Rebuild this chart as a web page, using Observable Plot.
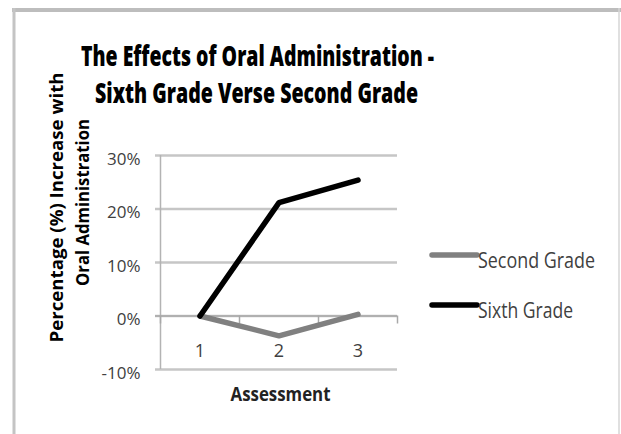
<!DOCTYPE html>
<html><head><meta charset="utf-8">
<script src="https://cdn.jsdelivr.net/npm/d3@7"></script>
<script src="https://cdn.jsdelivr.net/npm/@observablehq/plot@0.6"></script>
<style>body{margin:0;background:#fff;} #chart svg{display:block;}</style>
</head><body><div id="chart"></div>
<script>
const assessments = [1, 2, 3];
const seriesNames = ["Second Grade", "Sixth Grade"];
const secondGrade = [0, -0.037, 0.003];
const sixthGrade = [0, 0.212, 0.254];
const yTicks = [-0.1, 0, 0.1, 0.2, 0.3];
const titleLines = ["The Effects of Oral Administration -", "Sixth Grade Verse Second Grade"];
const yTitleLines = ["Percentage (%) Increase with", "Oral Administration"];
const xTitle = "Assessment";

const rows = [];
seriesNames.forEach((s, i) => {
  const vals = i === 0 ? secondGrade : sixthGrade;
  assessments.forEach((a, j) => rows.push({series: s, assessment: a, value: vals[j]}));
});
const boundaries = [0.5, 1.5, 2.5, 3.5];
const font = "'Open Sans', sans-serif";
const pct = d => d3.format(".0%")(d).replace("\u2212", "-");

// target rendered widths (squeezed text, like the stretched original)
const fitWidths = new Map([
  [titleLines[0], 353], [titleLines[1], 323],
  [yTitleLines[0], 270], [yTitleLines[1], 167],
  [xTitle, 100]
]);

const chart = Plot.plot({
  width: 621, height: 434,
  marginLeft: 160, marginRight: 224, marginTop: 155, marginBottom: 65,
  style: {fontFamily: font, background: "white", overflow: "visible"},
  x: {domain: [0.5, 3.5], axis: null},
  y: {domain: [-0.1, 0.3], axis: null},
  color: {domain: seriesNames, range: ["#808080", "#000000"]},
  marks: [
    Plot.ruleY(yTicks, {y: d => d, stroke: "#c6c6c6", strokeWidth: 2.5, insetLeft: -5}),
    Plot.ruleX([0.5], {x: d => d, stroke: "#b3b3b3", strokeWidth: 1.5}),
    Plot.ruleY([0], {y: d => d, stroke: "#a8a8a8", strokeWidth: 1.5, insetLeft: -5}),
    Plot.ruleX(boundaries, {x: d => d, y1: 0, y2: 0, insetBottom: -8, stroke: "#a8a8a8", strokeWidth: 1.5}),
    Plot.line(rows, {x: "assessment", y: "value", z: "series", stroke: "series", strokeWidth: 5.5}),
    Plot.text(yTicks, {y: d => d, frameAnchor: "left", dx: -20, dy: 4, textAnchor: "end", text: pct, fill: "#404040", fontSize: 17}),
    Plot.text(assessments, {x: d => d, y: 0, dy: 35, text: d => String(d), fill: "#404040", fontSize: 18}),
    Plot.text([titleLines[0]], {text: d => d, frameAnchor: "top-left", textAnchor: "middle", dx: 97, dy: -90, lineAnchor: "bottom", fontSize: 29, fontWeight: 800, fill: "#000"}),
    Plot.text([titleLines[1]], {text: d => d, frameAnchor: "top-left", textAnchor: "middle", dx: 96, dy: -53, lineAnchor: "bottom", fontSize: 29, fontWeight: 800, fill: "#000"}),
    Plot.text([yTitleLines[0]], {text: d => d, frameAnchor: "top-left", textAnchor: "middle", dx: -98, dy: 52, rotate: -90, lineAnchor: "bottom", fontSize: 18, fontWeight: "bold", fill: "#000"}),
    Plot.text([yTitleLines[1]], {text: d => d, frameAnchor: "top-left", textAnchor: "middle", dx: -72, dy: 47, rotate: -90, lineAnchor: "bottom", fontSize: 18, fontWeight: "bold", fill: "#000"}),
    Plot.text([xTitle], {text: d => d, frameAnchor: "bottom", textAnchor: "middle", dx: 1.5, dy: 31, lineAnchor: "bottom", fontSize: 20, fontWeight: "bold", fill: "#222"})
  ]
});

const svg = d3.select(chart);
svg.selectAll("text").each(function() {
  const t = d3.select(this).text();
  if (fitWidths.has(t)) d3.select(this).attr("textLength", fitWidths.get(t)).attr("lengthAdjust", "spacingAndGlyphs");
});

// legend
const colors = ["#808080", "#000000"];
const legendWidths = [117, 95];
const lg = svg.append("g").attr("font-family", font).attr("text-anchor", "start");
seriesNames.forEach((s, i) => {
  const y = 255 + i * 50;
  lg.append("line").attr("x1", 432).attr("x2", 477).attr("y1", y).attr("y2", y)
    .attr("stroke", colors[i]).attr("stroke-width", 5.5).attr("stroke-linecap", "round");
  lg.append("text").attr("x", 478).attr("y", y + 13).attr("font-size", 22).attr("fill", "#404040")
    .attr("text-anchor", "start")
    .attr("textLength", legendWidths[i]).attr("lengthAdjust", "spacingAndGlyphs").text(s);
});

// outer chart border
const bd = svg.append("g").attr("fill", "none");
bd.append("line").attr("x1", 12).attr("x2", 621).attr("y1", 10).attr("y2", 10).attr("stroke", "#bdbdbd").attr("stroke-width", 4);
bd.append("line").attr("x1", 14).attr("x2", 14).attr("y1", 8).attr("y2", 434).attr("stroke", "#c4c4c4").attr("stroke-width", 3);
bd.append("line").attr("x1", 619).attr("x2", 619).attr("y1", 8).attr("y2", 434).attr("stroke", "#d6d6d6").attr("stroke-width", 1.5);

document.getElementById("chart").appendChild(chart);
</script>
</body></html>
